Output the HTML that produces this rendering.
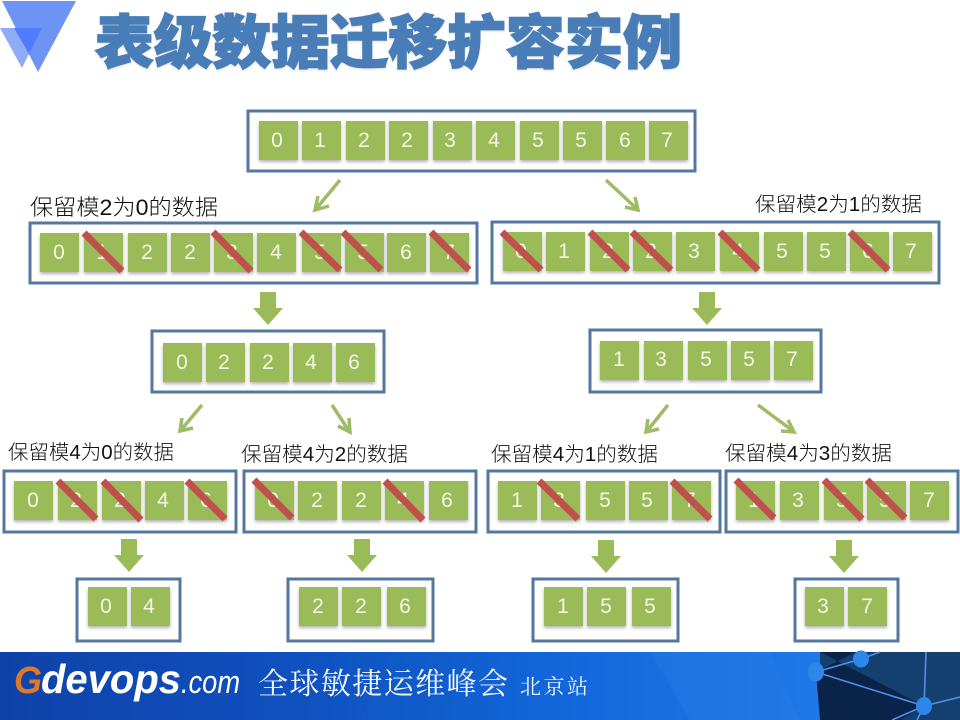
<!DOCTYPE html>
<html><head><meta charset="utf-8"><style>
html,body{margin:0;padding:0;background:#fff;width:960px;height:720px;overflow:hidden}
svg{display:block}
.f{fill:#fff;stroke:#54779f;stroke-width:3}
.c rect{fill:#9bbb59;width:39px;height:39px}
.c{filter:url(#sh)}
.n text{font:21px "Liberation Sans",sans-serif;fill:#f3f7e6;text-anchor:middle}
.s line{stroke:#c0504d;stroke-width:7}
.t line{stroke:#9fbb66;stroke-width:3.5}
.t path{fill:none;stroke:#9fbb66;stroke-width:3.5}
.b path{fill:#9bbb59}
.l{font-family:"Liberation Sans","Noto Sans CJK SC",sans-serif;font-weight:300;fill:#111}
</style></head><body>
<svg width="960" height="720" viewBox="0 0 960 720" xmlns="http://www.w3.org/2000/svg">
<defs>
<filter id="sh" x="-5%" y="-5%" width="110%" height="115%"><feDropShadow dx="0" dy="2" stdDeviation="1.5" flood-color="#000" flood-opacity=".3"/></filter>
<filter id="ts" x="-5%" y="-10%" width="110%" height="125%"><feDropShadow dx="0" dy="1" stdDeviation="1" flood-color="#000" flood-opacity=".12"/></filter>
<linearGradient id="bar" x1="0" x2="1" y1="0" y2="0"><stop offset="0" stop-color="#0f42a8"/><stop offset=".33" stop-color="#0f52c0"/><stop offset=".6" stop-color="#1268dc"/><stop offset=".85" stop-color="#1e78e8"/><stop offset="1" stop-color="#1a74e0"/></linearGradient>
</defs>

<!-- logo -->
<polygon points="2,1 76,1 38,72" fill="#6d93f5"/>
<polygon points="0,28 42,28 22,68" fill="#8fabf6"/>
<polygon points="14,28 42,28 29,54" fill="#4f7bff"/>
<!-- title -->
<text x="95" y="63" textLength="587" lengthAdjust="spacingAndGlyphs" filter="url(#ts)" style="font:900 58px 'Liberation Sans','Noto Sans CJK SC',sans-serif;fill:#4a7db8;stroke:#4a7db8;stroke-width:1.6">表级数据迁移扩容实例</text>

<!-- frames -->
<rect class="f" x="248" y="111" width="447" height="60"/>
<rect class="f" x="30" y="223" width="447" height="60"/>
<rect class="f" x="492" y="222" width="447" height="61"/>
<rect class="f" x="152" y="331" width="232" height="61"/>
<rect class="f" x="590" y="330" width="231" height="62"/>
<rect class="f" x="4" y="471" width="232" height="61"/>
<rect class="f" x="244" y="471" width="232" height="61"/>
<rect class="f" x="488" y="471" width="232" height="61"/>
<rect class="f" x="726" y="471" width="232" height="61"/>
<rect class="f" x="77" y="579" width="103" height="62"/>
<rect class="f" x="288" y="579" width="145" height="62"/>
<rect class="f" x="533" y="579" width="145" height="62"/>
<rect class="f" x="795" y="579" width="103" height="62"/>

<!-- cells -->
<g class="c">
<rect x="259" y="121"/><rect x="302" y="121"/><rect x="346" y="121"/><rect x="389" y="121"/><rect x="433" y="121"/><rect x="476" y="121"/><rect x="520" y="121"/><rect x="563" y="121"/><rect x="606" y="121"/><rect x="649" y="121"/>
<rect x="40" y="233"/><rect x="84" y="233"/><rect x="128" y="233"/><rect x="171" y="233"/><rect x="214" y="233"/><rect x="257" y="233"/><rect x="302" y="233"/><rect x="345" y="233"/><rect x="387" y="233"/><rect x="430" y="233"/>
<rect x="503" y="232"/><rect x="546" y="232"/><rect x="590" y="232"/><rect x="633" y="232"/><rect x="676" y="232"/><rect x="720" y="232"/><rect x="764" y="232"/><rect x="807" y="232"/><rect x="850" y="232"/><rect x="893" y="232"/>
<rect x="163" y="343"/><rect x="206" y="343"/><rect x="250" y="343"/><rect x="293" y="343"/><rect x="336" y="343"/>
<rect x="600" y="341"/><rect x="644" y="341"/><rect x="688" y="341"/><rect x="731" y="341"/><rect x="774" y="341"/>
<rect x="14" y="481"/><rect x="58" y="481"/><rect x="102" y="481"/><rect x="145" y="481"/><rect x="188" y="481"/>
<rect x="255" y="481"/><rect x="298" y="481"/><rect x="342" y="481"/><rect x="385" y="481"/><rect x="429" y="481"/>
<rect x="498" y="481"/><rect x="541" y="481"/><rect x="586" y="481"/><rect x="629" y="481"/><rect x="672" y="481"/>
<rect x="736" y="481"/><rect x="780" y="481"/><rect x="824" y="481"/><rect x="867" y="481"/><rect x="910" y="481"/>
<rect x="88" y="587"/><rect x="131" y="587"/>
<rect x="299" y="587"/><rect x="342" y="587"/><rect x="387" y="587"/>
<rect x="544" y="587"/><rect x="587" y="587"/><rect x="632" y="587"/>
<rect x="805" y="587"/><rect x="848" y="587"/>
</g>

<!-- numbers -->
<g class="n">
<text x="277" y="147">0</text><text x="320" y="147">1</text><text x="364" y="147">2</text><text x="407" y="147">2</text><text x="450" y="147">3</text><text x="494" y="147">4</text><text x="538" y="147">5</text><text x="581" y="147">5</text><text x="625" y="147">6</text><text x="667" y="147">7</text>
<text x="59" y="259">0</text><text x="102" y="259">1</text><text x="147" y="259">2</text><text x="190" y="259">2</text><text x="232" y="259">3</text><text x="276" y="259">4</text><text x="320" y="259">5</text><text x="363" y="259">5</text><text x="406" y="259">6</text><text x="449" y="259">7</text>
<text x="521" y="258">0</text><text x="564" y="258">1</text><text x="608" y="258">2</text><text x="651" y="258">2</text><text x="694" y="258">3</text><text x="738" y="258">4</text><text x="782" y="258">5</text><text x="825" y="258">5</text><text x="868" y="258">6</text><text x="911" y="258">7</text>
<text x="182" y="369">0</text><text x="224" y="369">2</text><text x="268" y="369">2</text><text x="311" y="369">4</text><text x="354" y="369">6</text>
<text x="619" y="366">1</text><text x="661" y="366">3</text><text x="706" y="366">5</text><text x="749" y="366">5</text><text x="792" y="366">7</text>
<text x="33" y="507">0</text><text x="76" y="507">2</text><text x="120" y="507">2</text><text x="163" y="507">4</text><text x="206" y="507">6</text>
<text x="273" y="507">0</text><text x="317" y="507">2</text><text x="361" y="507">2</text><text x="403" y="507">4</text><text x="447" y="507">6</text>
<text x="517" y="507">1</text><text x="559" y="507">3</text><text x="605" y="507">5</text><text x="647" y="507">5</text><text x="690" y="507">7</text>
<text x="754" y="507">1</text><text x="798" y="507">3</text><text x="842" y="507">5</text><text x="885" y="507">5</text><text x="929" y="507">7</text>
<text x="106" y="613">0</text><text x="149" y="613">4</text>
<text x="318" y="613">2</text><text x="361" y="613">2</text><text x="405" y="613">6</text>
<text x="563" y="613">1</text><text x="606" y="613">5</text><text x="650" y="613">5</text>
<text x="823" y="613">3</text><text x="867" y="613">7</text>
</g>

<!-- strikes -->
<g class="s">
<line x1="84" y1="233" x2="122" y2="271"/><line x1="213" y1="232" x2="251" y2="271"/><line x1="301" y1="232" x2="340" y2="270"/><line x1="343" y1="232" x2="381" y2="270"/><line x1="431" y1="232" x2="469" y2="270"/>
<line x1="502" y1="232" x2="541" y2="270"/><line x1="590" y1="232" x2="628" y2="270"/><line x1="632" y1="232" x2="671" y2="270"/><line x1="720" y1="232" x2="758" y2="270"/><line x1="850" y1="232" x2="888" y2="270"/>
<line x1="58" y1="481" x2="96" y2="519"/><line x1="103" y1="481" x2="141" y2="520"/><line x1="187" y1="481" x2="225" y2="519"/>
<line x1="254" y1="480" x2="292" y2="518"/><line x1="385" y1="481" x2="423" y2="520"/>
<line x1="539" y1="481" x2="578" y2="519"/><line x1="672" y1="481" x2="710" y2="519"/>
<line x1="736" y1="480" x2="774" y2="518"/><line x1="824" y1="480" x2="862" y2="519"/><line x1="867" y1="480" x2="905" y2="518"/>
</g>

<!-- thin arrows -->
<g class="t">
<line x1="340" y1="180" x2="316" y2="209"/><path d="M318 196 L315 210 L329 206"/>
<line x1="606" y1="180" x2="637" y2="209"/><path d="M625 207 L638 210 L635 197"/>
<line x1="202" y1="405" x2="181" y2="430"/><path d="M182 418 L180 431 L193 428"/>
<line x1="332" y1="405" x2="349" y2="431"/><path d="M338 426 L350 432 L349 418"/>
<line x1="668" y1="405" x2="647" y2="431"/><path d="M648 419 L646 432 L659 429"/>
<line x1="758" y1="405" x2="793" y2="431"/><path d="M781 431 L794 432 L788 420"/>
</g>

<!-- block arrows -->
<g class="b">
<path d="M260 292h16v16h7l-15 17l-15-17h7z"/>
<path d="M699 292h16v16h7l-15 17l-15-17h7z"/>
<path d="M121 539h16v16h7l-15 17l-15-17h7z"/>
<path d="M354 539h16v16h7l-15 17l-15-17h7z"/>
<path d="M598 540h16v16h7l-15 17l-15-17h7z"/>
<path d="M836 540h16v16h7l-15 17l-15-17h7z"/>
</g>

<!-- labels -->
<text class="l" x="30" y="215" font-size="22" textLength="188" lengthAdjust="spacingAndGlyphs">保留模2为0的数据</text>
<text class="l" x="755" y="211" font-size="20" textLength="167" lengthAdjust="spacingAndGlyphs">保留模2为1的数据</text>
<text class="l" x="8" y="459" font-size="20" textLength="166" lengthAdjust="spacingAndGlyphs">保留模4为0的数据</text>
<text class="l" x="241" y="461" font-size="20" textLength="167" lengthAdjust="spacingAndGlyphs">保留模4为2的数据</text>
<text class="l" x="491" y="461" font-size="20" textLength="167" lengthAdjust="spacingAndGlyphs">保留模4为1的数据</text>
<text class="l" x="725" y="460" font-size="20" textLength="167" lengthAdjust="spacingAndGlyphs">保留模4为3的数据</text>

<!-- footer -->
<rect x="0" y="652" width="960" height="68" fill="url(#bar)"/>
<polygon points="390,652 470,652 440,720 360,720" fill="#0f5cc8" opacity=".5"/>
<polygon points="650,652 770,652 800,720 690,720" fill="#2a82e8" opacity=".3"/>
<polygon points="820,652 960,652 960,720 820,720" fill="#14406f"/>
<polygon points="820,652 856,652 816,672 820,720 900,720 924,706" fill="#0a2348"/>
<g stroke="#4f90ea" stroke-width="1.6" fill="none"><path d="M816 672 L861 659 L880 652"/><path d="M816 672 L924 706"/><path d="M926 652 L924 706"/><path d="M924 706 L960 697"/><path d="M924 706 L892 720"/><path d="M924 706 L917 720"/></g>
<g fill="#2f86ea"><ellipse cx="816" cy="672" rx="8" ry="9.5"/><ellipse cx="861" cy="659" rx="8" ry="8.5"/><ellipse cx="924" cy="706" rx="8" ry="9"/></g>
<text x="14" y="693" style="font:italic 700 38px 'Liberation Sans',sans-serif;fill:#e0782a" textLength="28" lengthAdjust="spacingAndGlyphs">G</text>
<text x="41" y="693" style="font:italic 700 41px 'Liberation Sans',sans-serif;fill:#fff" textLength="140" lengthAdjust="spacingAndGlyphs">devops</text>
<text x="181" y="693" style="font:italic 400 32px 'Liberation Sans',sans-serif;fill:#fff" textLength="59" lengthAdjust="spacingAndGlyphs">.com</text>
<text x="258" y="694" style="font:400 30px 'Liberation Serif','Noto Serif CJK SC',serif;fill:#f2f7ff" textLength="250">全球敏捷运维峰会</text>
<text x="520" y="694" style="font:400 21px 'Liberation Serif','Noto Serif CJK SC',serif;fill:#f2f7ff" textLength="68">北京站</text>
</svg>
</body></html>
